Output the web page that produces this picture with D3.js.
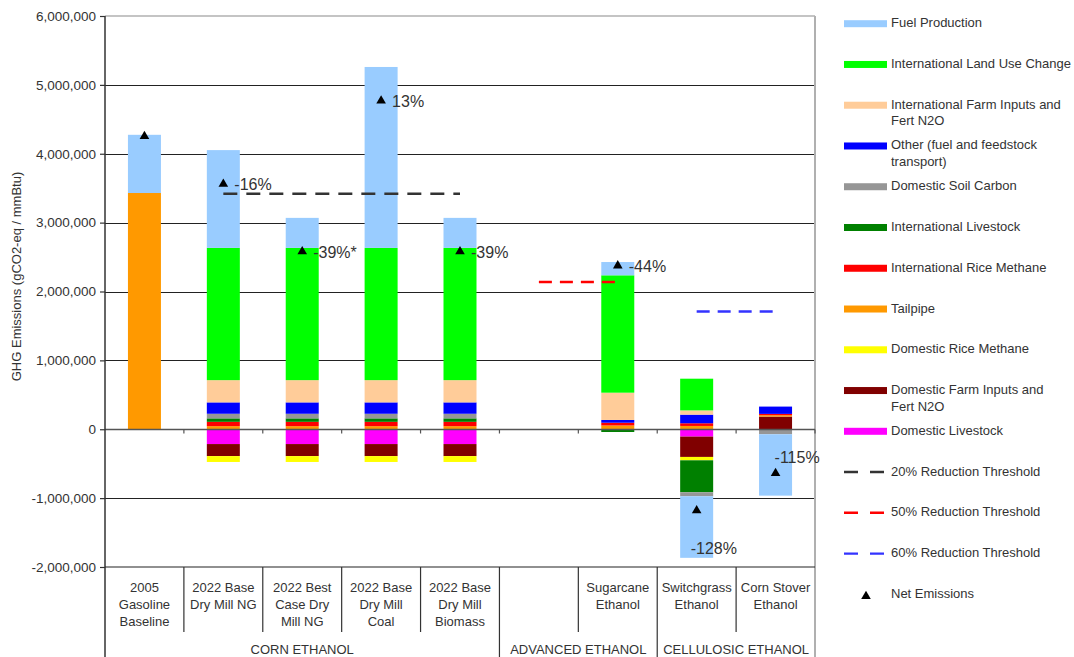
<!DOCTYPE html>
<html><head><meta charset="utf-8">
<script src="https://cdn.jsdelivr.net/npm/d3@7"></script>
<style>body{margin:0;background:#fff;overflow:hidden} svg{font-family:"Liberation Sans",Arial,sans-serif;display:block}</style>
</head><body><svg id="c" width="1074" height="657"></svg>
<script>
// ---------- DATA ----------
const categories = ["2005\nGasoline\nBaseline","2022 Base\nDry Mill NG","2022 Best\nCase Dry\nMill NG","2022 Base\nDry Mill\nCoal","2022 Base\nDry Mill\nBiomass","","Sugarcane\nEthanol","Switchgrass\nEthanol","Corn Stover\nEthanol"];
const groupNames = ["CORN ETHANOL","ADVANCED ETHANOL","CELLULOSIC ETHANOL"];
const groupSizes = [5, 2, 2];

// stack order: first = bottom of stack
const domesticLivestock   = [0, -215000, -215000, -215000, -215000, 0, 0, -107000, 0];
const domesticFarmInputs  = [0, -175000, -175000, -175000, -175000, 0, 0, -295000, 184000];
const domesticRiceMethane = [0, -85000, -85000, -85000, -85000, 0, 0, -49000, 0];
const tailpipe            = [3430000, 45000, 45000, 45000, 45000, 0, 55000, 48000, 20000];
const intlRiceMethane     = [0, 63000, 63000, 63000, 63000, 0, 40000, 39000, 19000];
const intlLivestock       = [0, 50000, 50000, 50000, 50000, 0, -40000, -464000, 0];
const domesticSoilCarbon  = [0, 67000, 67000, 67000, 67000, 0, 0, -58000, -73000];
const otherTransport      = [0, 165000, 165000, 165000, 165000, 0, 40000, 125000, 106000];
const intlFarmInputs      = [0, 323000, 323000, 323000, 323000, 0, 396000, 62000, 0];
const intlLandUseChange   = [0, 1920000, 1920000, 1920000, 1920000, 0, 1704000, 460000, 0];
const fuelProduction      = [845000, 1420000, 436000, 2627000, 436000, 0, 193000, -894000, -891000];

const netEmissions = [4255000, 3560000, 2580000, 4770000, 2580000, null, 2375000, -1180000, -640000];
const netLabels    = ["", "-16%", "-39%*", "13%", "-39%", "", "-44%", "-128%", "-115%"];

const threshold20 = [null, 3420000, 3420000, 3420000, 3420000, null, null, null, null];
const threshold50 = [null, null, null, null, null, 2137500, 2137500, null, null];
const threshold60 = [null, null, null, null, null, null, null, 1710000, 1710000];

const yTicks = [-2000000, -1000000, 0, 1000000, 2000000, 3000000, 4000000, 5000000, 6000000];

const seriesNames = ["Domestic Livestock","Domestic Farm Inputs and\nFert N2O","Domestic Rice Methane","Tailpipe","International Rice Methane","International Livestock","Domestic Soil Carbon","Other (fuel and feedstock\ntransport)","International Farm Inputs and\nFert N2O","International Land Use Change","Fuel Production"];
const seriesValues = [domesticLivestock, domesticFarmInputs, domesticRiceMethane, tailpipe, intlRiceMethane, intlLivestock, domesticSoilCarbon, otherTransport, intlFarmInputs, intlLandUseChange, fuelProduction];
const seriesColors = ["#FF00FF","#800000","#FFFF00","#FF9900","#FF0000","#008000","#969696","#0000FF","#FFCC99","#00FF00","#99CCFF"];

const thresholdNames  = ["20% Reduction Threshold","50% Reduction Threshold","60% Reduction Threshold"];
const thresholdValues = [threshold20, threshold50, threshold60];
const thresholdColors = ["#333333","#FF0000","#3333FF"];

// ---------- CHART ----------
const svg = d3.select("#c");
const L = 105, R = 815, T = 16, B = 567;
const idx = d3.range(categories.length);
const x = d3.scaleBand().domain(idx).range([L, R]).padding(0);
const y = d3.scaleLinear().domain([-2000000, 6000000]).range([B, T]);
const barW = 33;
const cx = i => x(i) + x.bandwidth() / 2;
const fmt = d => d3.format(",d")(d).replace("\u2212", "-");

// gridlines
svg.append("g").selectAll("line").data(yTicks.filter(v => v !== 0 && v !== 6000000 && v !== -2000000))
  .join("line").attr("x1", L).attr("x2", R).attr("y1", d => Math.round(y(d)) + 0.5).attr("y2", d => Math.round(y(d)) + 0.5)
  .attr("stroke", "#222").attr("stroke-width", 1.2);
// top and right border
svg.append("line").attr("x1", L).attr("x2", R).attr("y1", y(6000000)).attr("y2", y(6000000)).attr("stroke", "#b0b0b0").attr("stroke-width", 1.5);
svg.append("line").attr("x1", R).attr("x2", R).attr("y1", T).attr("y2", 657).attr("stroke", "#b0b0b0").attr("stroke-width", 2);

// stacked bars
const table = idx.map(i => { const o = {i}; seriesValues.forEach((s, k) => o[k] = s[i]); return o; });
const stack = d3.stack().keys(d3.range(seriesValues.length)).offset(d3.stackOffsetDiverging);
const layers = stack(table);
svg.append("g").selectAll("g").data(layers).join("g")
  .attr("fill", (d, k) => seriesColors[k])
  .selectAll("rect").data(d => d.filter(p => p[1] !== p[0])).join("rect")
  .attr("x", p => cx(p.data.i) - barW / 2).attr("width", barW)
  .attr("y", p => y(Math.max(p[0], p[1]))).attr("height", p => Math.abs(y(p[0]) - y(p[1])));

// zero line with ticks
const y0 = Math.round(y(0)) + 0.5;
svg.append("line").attr("x1", L).attr("x2", R).attr("y1", y0).attr("y2", y0).attr("stroke", "#555").attr("stroke-width", 1.3);
svg.append("g").selectAll("line").data(d3.range(1, categories.length + 1)).join("line")
  .attr("x1", i => L + i * x.bandwidth()).attr("x2", i => L + i * x.bandwidth()).attr("y1", y0).attr("y2", y0 + 4)
  .attr("stroke", "#555").attr("stroke-width", 1.2);

// y axis
const yAxis = d3.axisLeft(y).tickValues(yTicks).tickSize(5).tickPadding(4).tickFormat(fmt);
const ag = svg.append("g").attr("transform", `translate(${L},0)`).call(yAxis);
ag.select(".domain").remove();
ag.selectAll(".tick line").attr("stroke", "#333").attr("stroke-width", 1.2);
ag.selectAll(".tick text").attr("font-size", 13.5).attr("fill", "#333").attr("font-family", "Liberation Sans, Arial, sans-serif");
svg.append("line").attr("x1", L).attr("x2", L).attr("y1", T).attr("y2", 657).attr("stroke", "#333").attr("stroke-width", 1.5);
svg.append("text").attr("transform", `translate(21,${(T + B) / 2 - 15}) rotate(-90)`).attr("text-anchor", "middle")
  .attr("font-size", 13).attr("fill", "#333").text("GHG Emissions (gCO2-eq / mmBtu)");

// category table
svg.append("line").attr("x1", L).attr("x2", R).attr("y1", B).attr("y2", B).attr("stroke", "#222").attr("stroke-width", 1.2);
const groupEnds = d3.cumsum(groupSizes);
d3.range(1, categories.length).forEach(i => {
  const isGroup = groupEnds.includes(i);
  svg.append("line").attr("x1", L + i * x.bandwidth()).attr("x2", L + i * x.bandwidth())
    .attr("y1", B).attr("y2", isGroup ? 657 : 632).attr("stroke", "#333").attr("stroke-width", 1.2);
});
svg.append("g").selectAll("text").data(idx).join("text")
  .attr("text-anchor", "middle").attr("font-size", 13).attr("fill", "#333")
  .each(function(i) {
    d3.select(this).selectAll("tspan").data(categories[i] ? categories[i].split("\n") : []).join("tspan")
      .attr("x", cx(i)).attr("y", (d, j) => 592 + j * 17).text(d => d);
  });
let start = 0;
groupNames.forEach((g, k) => {
  const x1 = L + start * x.bandwidth(), x2 = L + (start + groupSizes[k]) * x.bandwidth();
  svg.append("text").attr("x", (x1 + x2) / 2).attr("y", 654).attr("text-anchor", "middle")
    .attr("font-size", 13).attr("fill", "#333").text(g);
  start += groupSizes[k];
});

// threshold lines
const dashes = ["14,9", "13,8", "13,8"];
thresholdValues.forEach((arr, k) => {
  const pts = idx.filter(i => arr[i] != null).map(i => [cx(i), y(arr[i])]);
  svg.append("path").attr("d", d3.line()(pts)).attr("fill", "none").attr("stroke", thresholdColors[k])
    .attr("stroke-width", 2.4).attr("stroke-dasharray", dashes[k]);
});

// net emissions
const tri = d3.symbol().type(d3.symbolTriangle).size(40);
svg.append("g").selectAll("path").data(idx.filter(i => netEmissions[i] != null)).join("path")
  .attr("d", tri).attr("transform", i => `translate(${cx(i)},${y(netEmissions[i])})`).attr("fill", "#000");
const labelOffset = {7: [-6, 37], 8: [-1, -16]};
svg.append("g").selectAll("text").data(idx.filter(i => netLabels[i])).join("text")
  .attr("x", i => cx(i) + (labelOffset[i] ? labelOffset[i][0] : 11))
  .attr("y", i => y(netEmissions[i]) + (labelOffset[i] ? labelOffset[i][1] : 0) + 6)
  .attr("font-size", 16).attr("fill", "#333").text(i => netLabels[i]);

// legend
const legend = svg.append("g");
const rowY = r => 22.7 + r * 40.76;
const legendSeries = d3.range(seriesNames.length).reverse();
legendSeries.forEach((k, r) => {
  legend.append("rect").attr("x", 844).attr("y", rowY(r) - 2.5).attr("width", 43).attr("height", 7).attr("fill", seriesColors[k]);
  legend.append("text").attr("font-size", 13).attr("fill", "#333")
    .selectAll("tspan").data(seriesNames[k].split("\n")).join("tspan")
    .attr("x", 891).attr("y", (d, j) => rowY(r) + 4.5 + j * 16.7).text(d => d);
});
thresholdNames.forEach((n, k) => {
  const r = seriesNames.length + k;
  legend.append("line").attr("x1", 844).attr("x2", 884).attr("y1", rowY(r) + 1).attr("y2", rowY(r) + 1)
    .attr("stroke", thresholdColors[k]).attr("stroke-width", 2.4).attr("stroke-dasharray", "14,12");
  legend.append("text").attr("x", 891).attr("y", rowY(r) + 4.5).attr("font-size", 13).attr("fill", "#333").text(n);
});
{
  const r = seriesNames.length + thresholdNames.length;
  legend.append("path").attr("d", tri).attr("transform", `translate(866,${rowY(r) + 3})`).attr("fill", "#000");
  legend.append("text").attr("x", 891).attr("y", rowY(r) + 4.5).attr("font-size", 13).attr("fill", "#333").text("Net Emissions");
}
</script></body></html>
